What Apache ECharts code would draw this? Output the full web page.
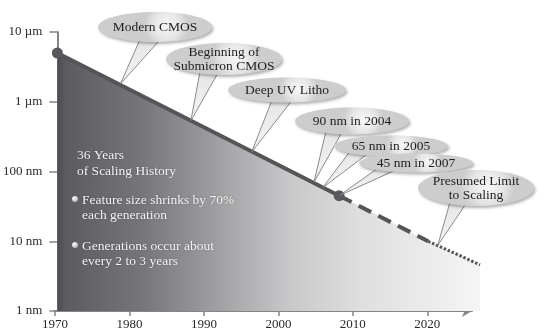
<!DOCTYPE html>
<html><head><meta charset="utf-8">
<script src="https://cdn.jsdelivr.net/npm/echarts@6/dist/echarts.min.js"></script>
<style>html,body{margin:0;padding:0;background:#fff}#c{width:544px;height:335px}</style>
</head><body><div id="c"></div>
<script>
// ---- data ----
const lineYears = [1970, 2008, 2020, 2027];
const featureNm = [5000, 45, 10, 4.6];
const xTickYears = [1970, 1980, 1990, 2000, 2010, 2020];
const yTickValues = [1, 10, 100, 1000, 10000];
const yTickLabels = ['1 nm', '10 nm', '100 nm', '1 µm', '10 µm'];
const calloutLabels = ['Modern CMOS', 'Beginning of\nSubmicron CMOS', 'Deep UV Litho', '90 nm in 2004', '65 nm in 2005', '45 nm in 2007', 'Presumed Limit\nto Scaling'];
const calloutYears = [1978.5, 1988, 1996.2, 2004.6, 2005.8, 2008, 2021.3];
const calloutValues = [1800, 530, 190, 70, 59, 45, 8.7];
const noteTitle = ['36 Years', 'of Scaling History'];
const noteBullets = [['Feature size shrinks by 70%', 'each generation'], ['Generations occur about', 'every 2 to 3 years']];

// ---- layout (pixels) ----
const FONT = '"Liberation Serif", "DejaVu Serif", serif';
const bubbleLayout = [
  {cx: 155, cy: 27, rx: 57, ry: 15, b: [140, 160]},
  {cx: 224, cy: 59, rx: 58, ry: 16, b: [200, 218]},
  {cx: 287, cy: 90, rx: 59, ry: 12.5, b: [272, 292]},
  {cx: 352, cy: 121, rx: 57, ry: 13.5, b: [326, 342]},
  {cx: 391, cy: 146, rx: 57, ry: 10.5, b: [350, 368]},
  {cx: 416, cy: 163, rx: 57, ry: 9.5, b: [378, 396]},
  {cx: 476, cy: 188, rx: 58, ry: 18, b: [450, 466]}
];

const pairs = (xs, ys, a, b) => xs.slice(a, b + 1).map((x, i) => [x, ys[a + i]]);
const lineColor = '#555558';
const axisColor = '#858585';

const chart = echarts.init(document.getElementById('c'), null, {renderer: 'canvas'});
chart.setOption({
  animation: false,
  grid: [
    {left: 55, right: 64, top: 32, bottom: 24},
    {left: 55, right: 72, top: 32, bottom: 24}
  ],
  xAxis: [
    {gridIndex: 0, type: 'value', min: 1970, max: 2027, show: false},
    {gridIndex: 1, type: 'value', min: 1970, max: 2026,
      axisLine: {show: true, symbol: ['none', 'arrow'], symbolSize: [9, 10], lineStyle: {color: axisColor, width: 2}},
      axisTick: {show: true, customValues: xTickYears, length: 5, lineStyle: {color: axisColor, width: 1.5}},
      axisLabel: {customValues: xTickYears, color: '#2a2a2a', fontFamily: FONT, fontSize: 13, margin: 7,
        formatter: v => String(Math.round(v))},
      splitLine: {show: false}}
  ],
  yAxis: [
    {gridIndex: 0, type: 'log', logBase: 10, min: 1, max: 10000,
      axisLine: {show: true, lineStyle: {color: axisColor, width: 2}},
      axisTick: {show: true, length: 8, lineStyle: {color: axisColor, width: 1.5}},
      axisLabel: {color: '#2a2a2a', fontFamily: FONT, fontSize: 13, margin: 15,
        formatter: v => { const i = yTickValues.indexOf(Math.round(v)); return i >= 0 ? yTickLabels[i] : ''; }},
      splitLine: {show: false}},
    {gridIndex: 1, type: 'log', logBase: 10, min: 1, max: 10000, show: false}
  ],
  series: [
    {type: 'line', xAxisIndex: 0, yAxisIndex: 0, data: pairs(lineYears, featureNm, 0, 3), symbol: 'none',
      lineStyle: {width: 0}, z: 1,
      areaStyle: {origin: 'start', opacity: 1, color: new echarts.graphic.LinearGradient(0, 0, 1, 0, [
        {offset: 0, color: '#4c4c51'},
        {offset: 0.02, color: '#5b5b60'},
        {offset: 0.2, color: '#75757a'},
        {offset: 0.4, color: '#a5a5a8'},
        {offset: 0.55, color: '#c8c8ca'},
        {offset: 0.72, color: '#dfdfdf'},
        {offset: 1, color: '#f5f5f5'}
      ])}},
    {type: 'line', xAxisIndex: 0, yAxisIndex: 0, data: pairs(lineYears, featureNm, 2, 3), symbol: 'none',
      lineStyle: {width: 3, color: lineColor, type: [2.5, 1.8]}, z: 3},
    {type: 'line', xAxisIndex: 0, yAxisIndex: 0, data: pairs(lineYears, featureNm, 1, 2), symbol: 'none',
      lineStyle: {width: 4, color: lineColor, type: [14, 8]}, z: 3},
    {type: 'line', xAxisIndex: 0, yAxisIndex: 0, data: pairs(lineYears, featureNm, 0, 1),
      symbol: 'circle', symbolSize: 11, showSymbol: true, itemStyle: {color: '#58585c'},
      lineStyle: {width: 4, color: lineColor}, z: 4}
  ]
});

// ---- annotations ----
const graphics = [];
const noteText = (x, y, t) => ({type: 'text', z: 20, style: {text: t, x: x, y: y, verticalAlign: 'middle', font: '13.5px ' + FONT, fill: '#f5f5f5', textShadowColor: 'rgba(0,0,0,0.35)', textShadowBlur: 1.5}});
graphics.push(noteText(77, 155, noteTitle[0]));
graphics.push(noteText(77, 171, noteTitle[1]));
const bulletY = [200, 246];
noteBullets.forEach((lines, k) => {
  graphics.push({type: 'circle', z: 20, shape: {cx: 75, cy: bulletY[k] - 1, r: 3},
    style: {fill: new echarts.graphic.RadialGradient(0.35, 0.35, 0.8, [{offset: 0, color: '#ffffff'}, {offset: 1, color: '#a8a8ac'}])}});
  lines.forEach((t, j) => graphics.push(noteText(82, bulletY[k] + j * 15, t)));
});
calloutLabels.forEach((label, i) => {
  const L = bubbleLayout[i];
  const tip = chart.convertToPixel({gridIndex: 0}, [calloutYears[i], calloutValues[i]]);
  const by = x => L.cy + L.ry * Math.sqrt(Math.max(0, 1 - Math.pow((x - L.cx) / L.rx, 2))) - 2;
  graphics.push({type: 'group', z: 30 + i, children: [
    {type: 'polygon', z: 30 + i, shape: {points: [[L.b[0], by(L.b[0])], [L.b[1], by(L.b[1])], tip]},
      style: {fill: new echarts.graphic.LinearGradient(0, 0, 0, 1, [{offset: 0, color: '#e6e6e6'}, {offset: 1, color: '#f4f4f4'}]), stroke: '#6e6e6e', lineWidth: 0.8}},
    {type: 'ellipse', z: 30 + i, shape: {cx: L.cx, cy: L.cy, rx: L.rx, ry: L.ry},
      style: {fill: new echarts.graphic.RadialGradient(0.6, 0.45, 0.75, [{offset: 0, color: '#f7f7f7'}, {offset: 0.6, color: '#e6e6e6'}, {offset: 1, color: '#cdcdcd'}]),
        shadowBlur: 3, shadowOffsetX: 1.5, shadowOffsetY: 2, shadowColor: 'rgba(0,0,0,0.3)'}},
    {type: 'text', z: 30 + i, style: {text: label, x: L.cx, y: L.cy, align: 'center', verticalAlign: 'middle', font: '13.5px ' + FONT, fill: '#1e1e1e', lineHeight: 14}}
  ]});
});
chart.setOption({graphic: {elements: graphics}});
</script>
</body></html>
